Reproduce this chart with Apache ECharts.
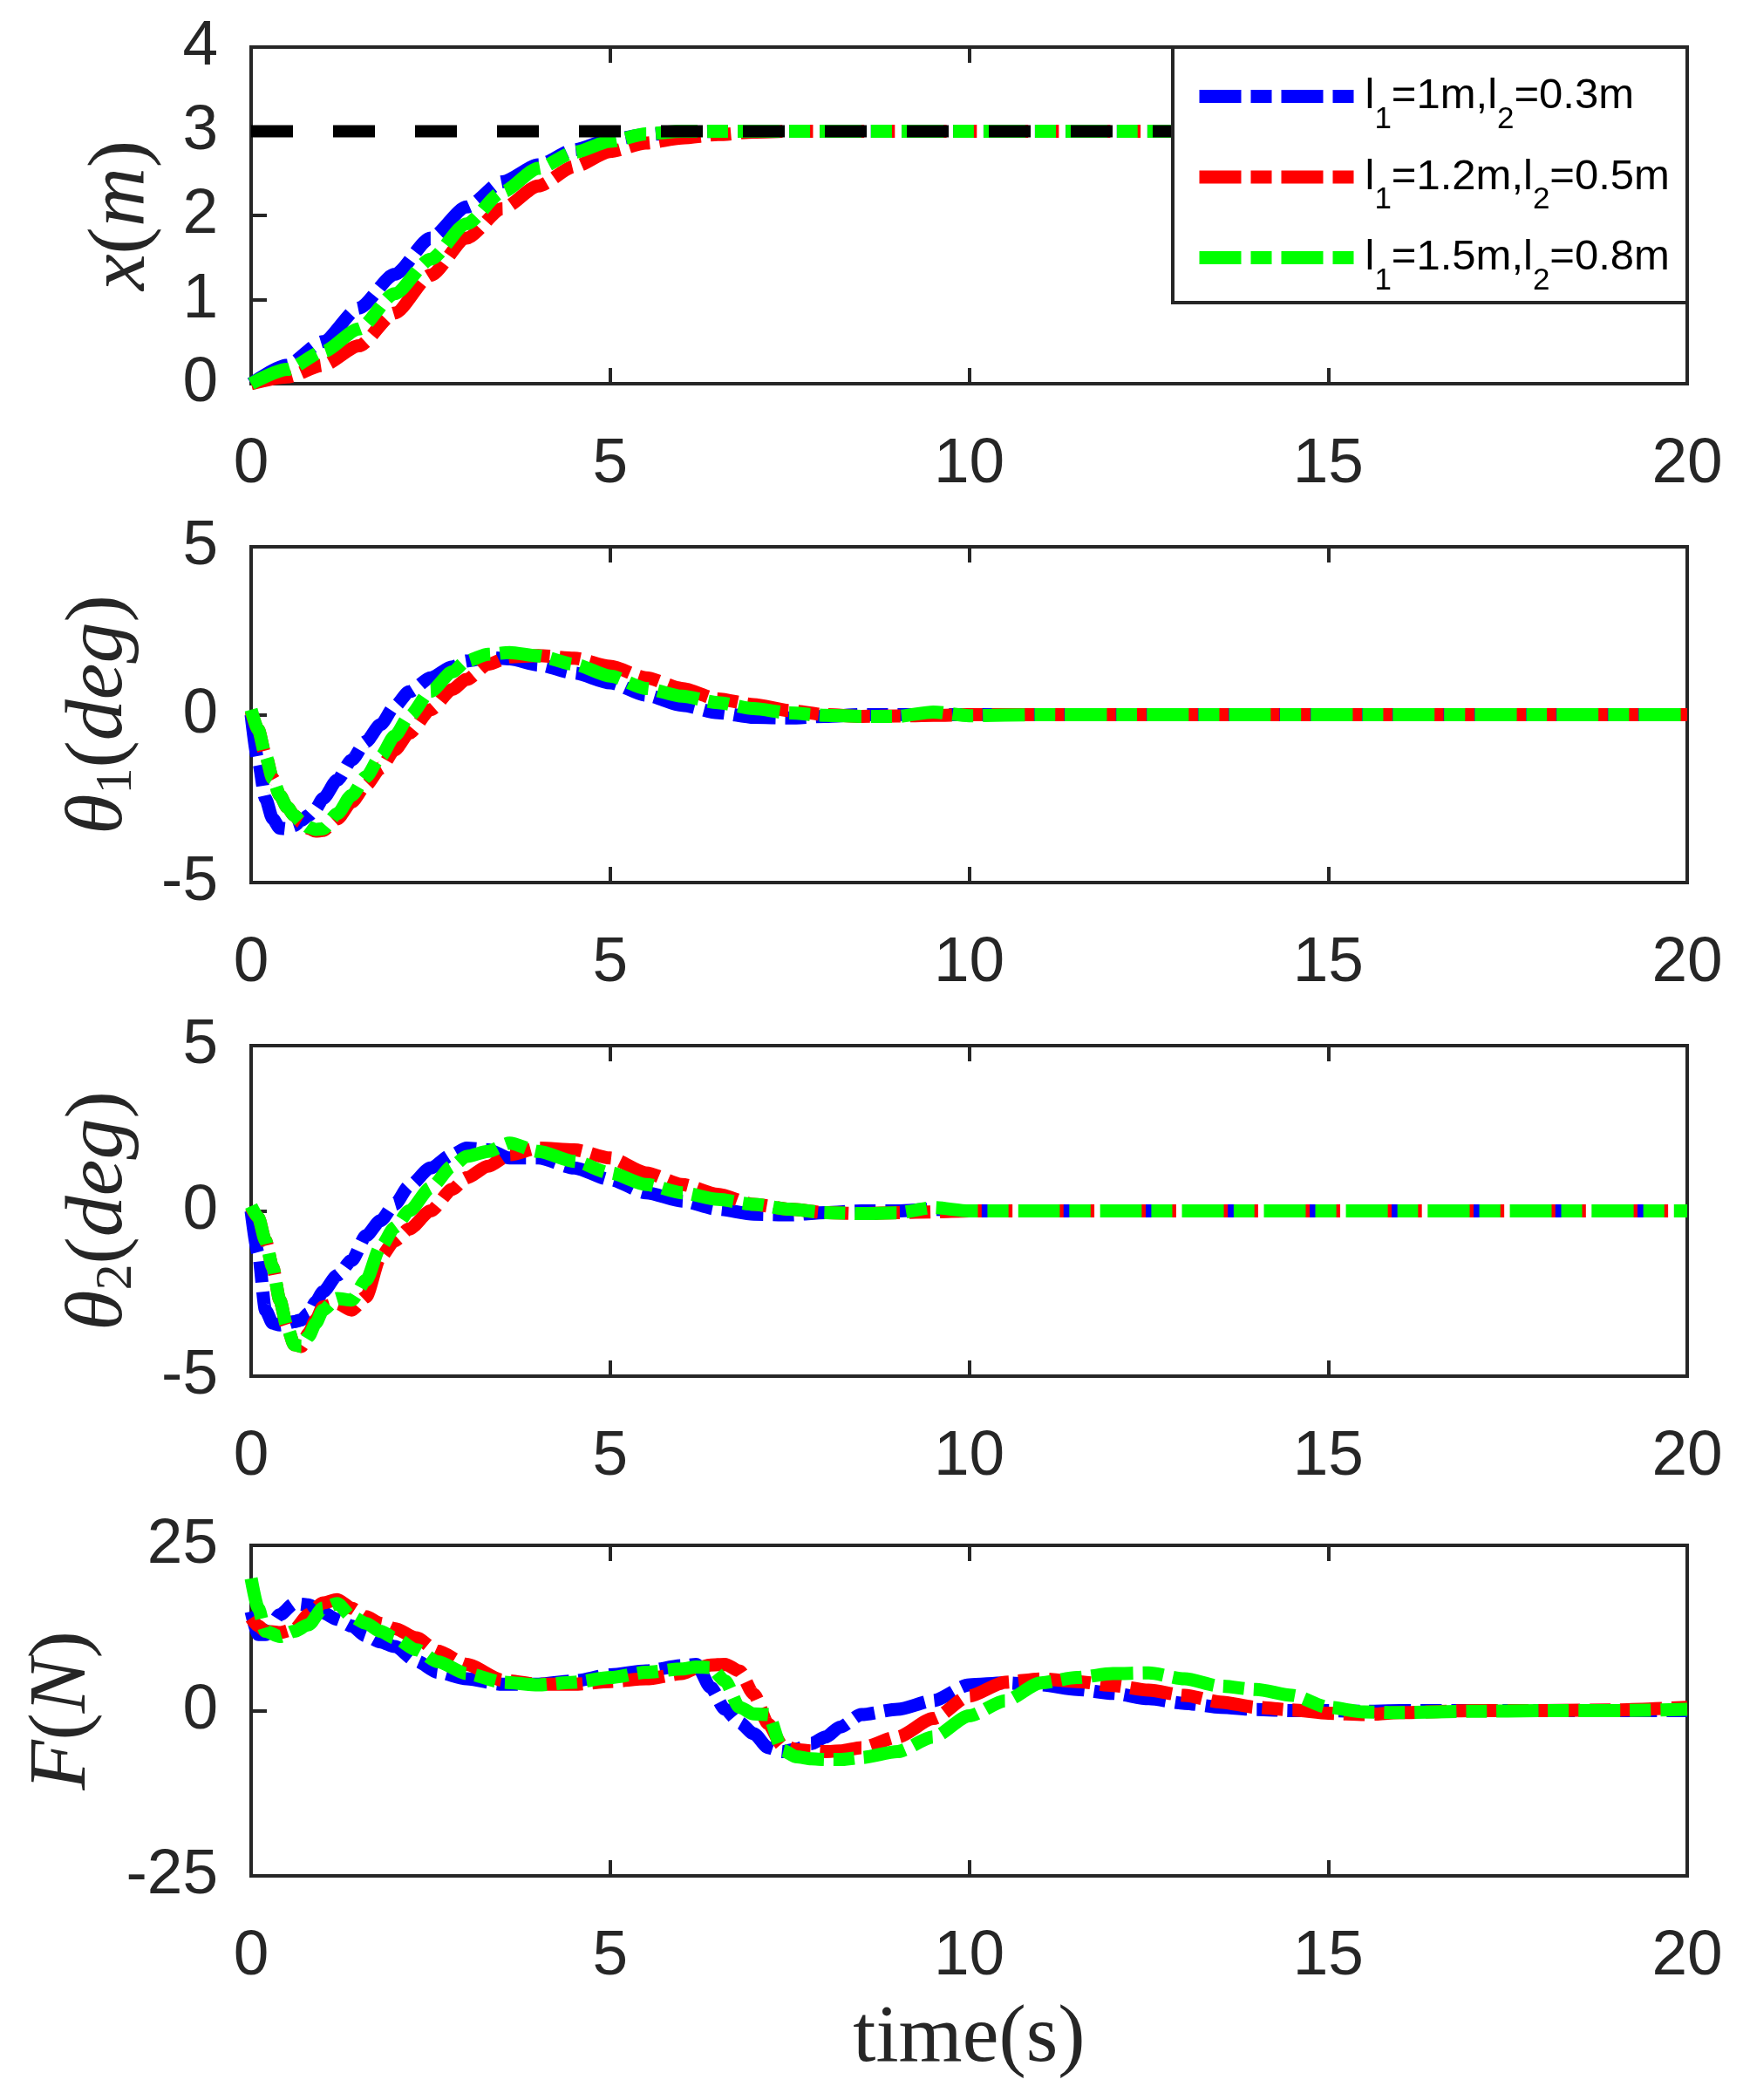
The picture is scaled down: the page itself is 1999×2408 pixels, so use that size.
<!DOCTYPE html>
<html><head><meta charset="utf-8">
<script src="https://cdn.jsdelivr.net/npm/echarts@6/dist/echarts.min.js"></script>
<style>html,body{margin:0;padding:0;background:#fff}#c{width:1999px;height:2408px}</style>
</head><body><div id="c"></div>
<script>
// ---------- data ----------
const seriesNames = ['l1=1m,l2=0.3m', 'l1=1.2m,l2=0.5m', 'l1=1.5m,l2=0.8m'];
const seriesColors = ['#0000ff', '#ff0000', '#00ff00'];
const xTickValues = [0, 5, 10, 15, 20];

// subplot 1 : x(m)
const tX = [0,0.5,1,1.5,2,2.5,3,3.5,4,4.5,5,5.5,6,6.5,7,7.5,8,10,12,14,16,18,20];
const xBlue  = [0,0.22,0.5,0.9,1.3,1.73,2.1,2.4,2.6,2.78,2.9,2.96,2.99,3,3,3,3,3,3,3,3,3,3];
const xRed   = [0,0.08,0.22,0.45,0.84,1.29,1.73,2.08,2.35,2.58,2.76,2.86,2.92,2.96,2.99,3,3,3,3,3,3,3,3];
const xGreen = [0,0.17,0.38,0.65,1.07,1.48,1.9,2.28,2.56,2.75,2.88,2.97,3,3,3,3,3,3,3,3,3,3,3];
const xRefT = [0, 20];
const xRef  = [3, 3];

// subplots 2 and 3 : theta1, theta2 (deg)
const tTh = [0,0.1,0.2,0.3,0.4,0.5,0.6,0.7,0.8,0.9,1.0,1.2,1.4,1.6,1.8,2.0,2.2,2.5,2.8,3.0,3.3,3.6,4.0,4.5,5.0,5.5,6.0,6.5,7.0,7.5,8.0,8.5,9.0,9.5,10,11,12,14,16,18,20];
const th1Blue  = [0,-1.4,-2.5,-3.1,-3.38,-3.4,-3.3,-3.15,-3.0,-2.8,-2.5,-1.95,-1.35,-0.8,-0.3,0.25,0.68,1.1,1.42,1.6,1.7,1.66,1.48,1.24,0.95,0.58,0.28,0.06,-0.08,-0.1,-0.05,0,0,0,0,0,0,0,0,0,0];
const th1Red   = [0.1,-0.45,-1.2,-1.9,-2.4,-2.75,-3.0,-3.2,-3.38,-3.47,-3.45,-3.1,-2.6,-2.1,-1.6,-1.05,-0.55,0.15,0.75,1.05,1.5,1.72,1.76,1.68,1.44,1.1,0.78,0.47,0.3,0.12,0,-0.05,-0.04,-0.02,0,0,0,0,0,0,0];
const th1Green = [0.15,-0.45,-1.2,-1.9,-2.4,-2.75,-3.0,-3.2,-3.35,-3.42,-3.4,-2.95,-2.4,-1.85,-1.25,-0.63,-0.05,0.7,1.27,1.6,1.8,1.85,1.75,1.5,1.15,0.78,0.55,0.36,0.18,0.05,-0.02,-0.05,-0.05,0.08,-0.03,0,0,0,0,0,0];
const th2Blue  = [0,-1.3,-3.0,-3.4,-3.45,-3.4,-3.35,-3.3,-3.1,-2.75,-2.45,-1.95,-1.5,-0.75,-0.3,0.2,0.75,1.3,1.7,1.9,1.85,1.6,1.6,1.3,0.95,0.55,0.3,0.05,-0.1,-0.12,-0.05,0,0,0.05,0,0,0,0,0,0,0];
const th2Red   = [0.1,-0.2,-0.9,-1.7,-2.7,-3.5,-4.05,-4.1,-3.7,-3.3,-2.9,-2.8,-3.0,-2.6,-1.4,-0.9,-0.55,0.0,0.65,1.0,1.35,1.7,1.9,1.85,1.6,1.15,0.8,0.5,0.2,0.05,-0.05,-0.08,-0.05,-0.03,0,0,0,0,0,0,0];
const th2Green = [0.15,-0.2,-0.9,-1.7,-2.7,-3.5,-4.05,-4.1,-3.8,-3.4,-3.0,-2.65,-2.7,-2.1,-1.1,-0.5,0.0,0.7,1.35,1.65,1.8,2.05,1.8,1.5,1.15,0.8,0.55,0.35,0.2,0.05,-0.05,-0.08,-0.06,0.1,0,0,0,0,0,0,0];

// subplot 4 : F(N)
const tF = [0,0.1,0.2,0.4,0.6,0.8,1.0,1.2,1.4,1.6,1.8,2.0,2.3,2.6,3.0,3.5,4.0,4.5,5.0,5.5,6.0,6.2,6.4,6.6,6.8,7.0,7.2,7.4,7.6,7.8,8.0,8.2,8.5,9.0,9.5,10.0,10.5,11,11.5,12,12.5,13,13.5,14,14.5,15,15.5,16,17,18,19,20];
const fBlue  = [15,11.5,11.5,14.5,16.2,16.0,14.8,13.8,12.8,11.3,10.4,9.7,7.5,5.8,4.8,4.0,4.0,4.5,5.4,6.0,6.8,7.0,3.5,0.2,-1.8,-3.5,-5.6,-6.2,-5.8,-5.0,-4.0,-2.5,-0.6,0.2,1.5,3.9,4.2,3.9,3.2,2.6,1.8,1.1,0.5,0.15,0,0,-0.1,0,0,0,0,0];
const fRed   = [14,12.8,12.0,11.8,12.3,14.5,16.3,16.8,15.5,14.2,13.2,12.4,11.0,9.0,7.0,4.6,4.0,4.0,4.4,4.8,5.6,6.4,6.9,7.0,6.0,2.5,-2.0,-5.3,-5.9,-6.1,-6.2,-6.1,-5.6,-4.0,-1.2,2.2,4.3,4.8,4.4,3.8,3.1,2.3,1.3,0.5,0.1,-0.4,-0.6,-0.3,0,0,0.1,0.5];
const fGreen = [20,15.5,12.0,11.2,12.0,13.0,15.5,16.2,14.2,13.2,12.0,11.0,9.2,7.4,5.6,4.3,3.9,4.3,5.0,5.8,6.3,6.6,6.5,4.5,0.5,-0.5,-0.6,-6.0,-7.0,-7.3,-7.4,-7.4,-7.1,-6.2,-4.0,-0.8,1.5,4.2,5.0,5.6,5.7,4.8,3.7,3.2,2.3,0.5,-0.2,-0.3,-0.1,0,0,0.2];

// ---------- chart ----------
const zip = (t, v) => t.map((x, i) => [x, v[i]]);
const AX = '#262626';
const DASH = [48, 11, 24, 11];
const gridBoxes = [
  {top: 54, height: 386}, {top: 627, height: 385},
  {top: 1199, height: 379}, {top: 1772, height: 379}
];
const yRanges = [
  {min: 0, max: 4, interval: 1},
  {min: -5, max: 5, interval: 5},
  {min: -5, max: 5, interval: 5},
  {min: -25, max: 25, interval: 25}
];
const yNames = [
  '{it|x}{rm|(}{it|m}{rm|)}',
  '{it|θ}{sub|1}{rm|(}{it|deg}{rm|)}',
  '{it|θ}{sub|2}{rm|(}{it|deg}{rm|)}',
  '{it|F}{rm|(}{it|N}{rm|)}'
];
const yNameGaps = [98, 124, 124, 166];
const plotData = [
  [zip(tX, xBlue), zip(tX, xRed), zip(tX, xGreen)],
  [zip(tTh, th1Blue), zip(tTh, th1Red), zip(tTh, th1Green)],
  [zip(tTh, th2Blue), zip(tTh, th2Red), zip(tTh, th2Green)],
  [zip(tF, fBlue), zip(tF, fRed), zip(tF, fGreen)]
];

const nameRich = {
  it: {fontFamily: 'Liberation Serif', fontStyle: 'italic', fontSize: 94, lineHeight: 100, color: '#262626'},
  rm: {fontFamily: 'Liberation Serif', fontSize: 94, lineHeight: 100, color: '#262626'},
  sub: {fontFamily: 'Liberation Serif', fontSize: 60, lineHeight: 56, verticalAlign: 'bottom', color: '#262626'}
};

const grid = [], xAxis = [], yAxis = [], series = [];
gridBoxes.forEach((g, i) => {
  grid.push({left: 288, width: 1647, top: g.top, height: g.height, show: true,
    borderColor: AX, borderWidth: 4, backgroundColor: 'transparent'});
  const xa = {
    type: 'value', gridIndex: i, min: 0, max: 20, interval: 5, position: 'bottom',
    axisLine: {show: true, onZero: false, lineStyle: {color: AX, width: 4}},
    axisTick: {show: true, inside: true, length: 18, lineStyle: {color: AX, width: 4}},
    axisLabel: {show: true, margin: 56, fontFamily: 'Liberation Sans', fontSize: 73, color: AX,
      showMinLabel: true, showMaxLabel: true},
    splitLine: {show: false}
  };
  if (i === 3) {
    xa.name = 'time(s)';
    xa.nameLocation = 'middle';
    xa.nameGap = 140;
    xa.nameTextStyle = {fontFamily: 'Liberation Serif', fontSize: 94, color: AX};
  }
  xAxis.push(xa);
  xAxis.push({
    type: 'value', gridIndex: i, min: 0, max: 20, interval: 5, position: 'top',
    axisLine: {show: false, onZero: false},
    axisTick: {show: true, inside: true, length: 18, lineStyle: {color: AX, width: 4}},
    axisLabel: {show: false}, splitLine: {show: false}
  });
  yAxis.push({
    type: 'value', gridIndex: i, min: yRanges[i].min, max: yRanges[i].max, interval: yRanges[i].interval,
    position: 'left',
    axisLine: {show: true, onZero: false, lineStyle: {color: AX, width: 4}},
    axisTick: {show: true, inside: true, length: 18, lineStyle: {color: AX, width: 4}},
    axisLabel: {show: true, margin: 38, fontFamily: 'Liberation Sans', fontSize: 73, color: AX,
      showMinLabel: true, showMaxLabel: true},
    splitLine: {show: false},
    name: yNames[i], nameLocation: 'middle', nameGap: yNameGaps[i], nameRotate: 90,
    nameTextStyle: {rich: nameRich}
  });
  plotData[i].forEach((d, k) => {
    series.push({
      type: 'line', name: seriesNames[k], xAxisIndex: 2 * i, yAxisIndex: i,
      data: d, symbol: 'none', showSymbol: false, smooth: 0.25, smoothMonotone: 'x',
      color: seriesColors[k],
      itemStyle: {color: seriesColors[k]},
      lineStyle: {color: seriesColors[k], width: 15, type: DASH, cap: 'butt', join: 'round'},
      silent: true, clip: true
    });
  });
  if (i === 0) {
    series.push({
      type: 'line', name: 'reference', xAxisIndex: 0, yAxisIndex: 0,
      data: zip(xRefT, xRef), symbol: 'none', showSymbol: false,
      lineStyle: {color: '#000000', width: 14, type: [48, 46], cap: 'butt'},
      silent: true
    });
  }
});

const chart = echarts.init(document.getElementById('c'), null, {renderer: 'canvas'});
chart.setOption({
  animation: false,
  backgroundColor: '#ffffff',
  grid, xAxis, yAxis, series,
  graphic: [{
    type: 'rect', z: 50,
    shape: {x: 1345, y: 54, width: 590, height: 293},
    style: {fill: '#ffffff', stroke: AX, lineWidth: 4}
  }],
  legend: {
    data: seriesNames, orient: 'vertical', left: 1368, top: 86, z: 60,
    padding: 0, itemGap: 24, itemWidth: 177, itemHeight: 15, selectedMode: false,
    itemStyle: {opacity: 0, borderWidth: 0},
    lineStyle: {width: 15, type: DASH, cap: 'butt', opacity: 1},
    formatter: n => '{m|' + n.replace(/l(\d)/g, 'l}{s|$1}{m|') + '}',
    textStyle: {
      padding: [0, 0, 0, 8],
      rich: {
        m: {fontFamily: 'Liberation Sans', fontSize: 49, lineHeight: 88, color: '#000000'},
        s: {fontFamily: 'Liberation Sans', fontSize: 35, lineHeight: 33, verticalAlign: 'bottom', color: '#000000'}
      }
    }
  }
});
</script>
</body></html>
